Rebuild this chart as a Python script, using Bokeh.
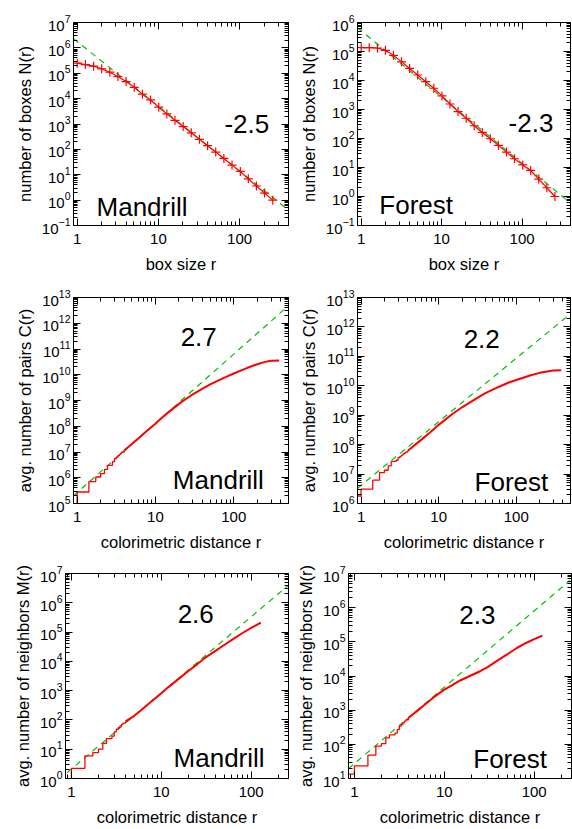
import math
from bokeh.plotting import figure
from bokeh.models import Range1d, FixedTicker, LogAxis, Label, PrintfTickFormatter
from bokeh.layouts import row, column
from bokeh.embed import file_html
from bokeh.resources import INLINE

# ---------------- data ----------------
# box counting: box size r and number of boxes N(r)
box_r = [1, 1.26, 1.59, 2, 2.52, 3.17, 4, 5.04, 6.35, 8, 10.1, 12.7, 16, 20.2, 25.4,
         32, 40.3, 50.8, 64, 80.6, 102, 128, 161, 203, 256]
mandrill_N = [2.5e5, 2.2e5, 1.9e5, 1.5e5, 1.1e5, 7.4e4, 4.7e4, 2.8e4, 1.5e4, 8.9e3,
              4.6e3, 2.5e3, 1.4e3, 790, 450, 250, 140, 78, 44, 24, 13.5, 6.9, 3.6, 1.9, 1.0]
forest_N = [1.35e5, 1.35e5, 1.32e5, 1.1e5, 7.4e4, 4.4e4, 2.6e4, 1.55e4, 9.1e3, 5.4e3,
            2.95e3, 1.55e3, 850, 500, 275, 162, 98, 58, 34, 20, 12.3, 7.9, 4.0, 2.0, 1.0]
fit_N_r = [0.9, 400]
mandrill_N_fit = [2.3e6, 0.41]
forest_N_fit = [6.6e5, 0.59]

# correlation: small-r staircase (discrete colour distances) then smooth part
step_r = [0.8, 1, 1.414, 1.732, 2, 2.236, 2.449, 2.828, 3, 3.162, 3.317, 3.464, 3.606, 3.742, 4]
mandrill_C_step = [3.2e4, 2.8e5, 7.1e5, 1.07e6, 1.45e6, 2.1e6, 3.0e6, 4.2e6, 5.5e6, 6.3e6,
                   7.2e6, 8.1e6, 9.1e6, 1.0e7, 1.15e7]
forest_C_step = [1.8e6, 3.1e6, 6.2e6, 1.12e7, 1.35e7, 1.9e7, 2.7e7, 2.95e7, 3.6e7, 4.0e7,
                 4.4e7, 4.8e7, 5.2e7, 5.6e7, 6.2e7]
mandrill_C_r = [4, 5, 6, 8, 10, 12, 15, 20, 25, 30, 40, 50, 60, 80, 100, 150, 200, 250, 300, 380]
mandrill_C = [1.15e7, 2.04e7, 3.3e7, 7.1e7, 1.26e8, 2.1e8, 3.7e8, 7.4e8, 1.2e9, 1.74e9,
              2.9e9, 4.2e9, 5.5e9, 8.3e9, 1.12e10, 1.86e10, 2.57e10, 3.16e10, 3.47e10, 3.55e10]
forest_C_r = [4, 5, 6, 8, 10, 15, 20, 30, 40, 60, 80, 100, 150, 200, 300, 380]
forest_C = [6.2e7, 1.0e8, 1.48e8, 2.8e8, 4.7e8, 1.1e9, 1.86e9, 3.6e9, 5.6e9, 9.3e9,
            1.29e10, 1.58e10, 2.24e10, 2.75e10, 3.3e10, 3.4e10]
fit_C_r = [0.9, 500]
mandrill_C_fit = [2.0e5, 4.8e12]
forest_C_fit = [3.3e6, 2.8e12]

# neighbours
mandrill_M_step = [0.5, 2.2, 5.9, 7.6, 10, 15.8, 23, 28, 39, 48, 55, 63, 71, 78, 89]
forest_M_step = [13.5, 23.4, 48, 89, 105, 155, 190, 214, 270, 340, 380, 427, 479, 525, 603]
mandrill_M_r = [4, 5, 6, 8, 10, 12, 15, 20, 25, 30, 40, 50, 64, 80, 100, 128]
mandrill_M = [89, 138, 219, 457, 813, 1.32e3, 2.29e3, 4.68e3, 7.9e3, 1.26e4, 2.29e4,
              3.63e4, 6.0e4, 9.3e4, 1.38e5, 2.1e5]
forest_M_r = [4, 5, 6, 8, 10, 12, 15, 20, 25, 30, 40, 50, 64, 80, 100, 123]
forest_M = [603, 955, 1.41e3, 2.63e3, 3.98e3, 5.25e3, 7.4e3, 1.05e4, 1.38e4, 1.78e4,
            2.95e4, 4.27e4, 6.6e4, 9.1e4, 1.2e5, 1.51e5]
mandrill_M_fit_r = [0.9, 260]
mandrill_M_fit = [1.6, 4.0e6]
forest_M_fit_r = [0.86, 251]
forest_M_fit = [19.5, 6.3e6]

# ---------------- styling ----------------
FONT = "Liberation Sans"
RED = "#ff0000"
GREEN = "#00c000"


def panel(w, h, bl, br, bt, bb, xr, yr, xlabel, ylabel):
    p = figure(width=w, height=h, x_axis_type="log", y_axis_type="log",
               x_range=Range1d(*xr), y_range=Range1d(*yr),
               min_border_left=bl, min_border_right=br,
               min_border_top=bt, min_border_bottom=bb,
               output_backend="svg", toolbar_location=None)
    p.grid.visible = False
    p.outline_line_color = "black"
    p.outline_line_width = 1
    e0 = round(math.log10(yr[0]))
    e1 = round(math.log10(yr[1]))
    exps = list(range(e0, e1 + 1))
    yt = FixedTicker(ticks=[10.0 ** e for e in exps],
                     minor_ticks=[m * 10.0 ** e for e in exps for m in range(2, 10)])
    xt = FixedTicker(ticks=[1, 10, 100],
                     minor_ticks=[m * 10.0 ** e for e in range(-1, 3) for m in range(2, 10)])
    p.xaxis.ticker = xt
    p.yaxis.ticker = yt
    p.xaxis.formatter = PrintfTickFormatter(format="%d")
    for ax in (p.xaxis[0], p.yaxis[0]):
        ax.major_tick_in = 7
        ax.major_tick_out = 0
        ax.minor_tick_in = 4
        ax.minor_tick_out = 0
        ax.axis_line_color = "black"
        ax.major_tick_line_color = "black"
        ax.minor_tick_line_color = "black"
        ax.major_label_text_font = FONT
        ax.major_label_text_font_size = "15px"
        ax.major_label_text_color = "black"
        ax.axis_label_text_font = FONT
        ax.axis_label_text_font_size = "16.5px"
        ax.axis_label_text_font_style = "normal"
        ax.axis_label_text_color = "black"
    p.xaxis.major_label_standoff = 8
    p.xaxis.axis_label_standoff = 8
    p.yaxis.major_label_standoff = 3
    p.yaxis.axis_label_standoff = 5
    p.xaxis.axis_label = xlabel
    p.yaxis.axis_label = ylabel
    # mirrored ticks (top / right), labels invisible
    for tk, side in ((xt, "above"), (yt, "right")):
        ax = LogAxis(ticker=tk, formatter=PrintfTickFormatter(format="%d"))
        ax.major_tick_in = 7
        ax.major_tick_out = 0
        ax.minor_tick_in = 4
        ax.minor_tick_out = 0
        ax.major_label_text_font_size = "1px"
        ax.major_label_text_alpha = 0
        ax.major_label_standoff = 0
        p.add_layout(ax, side)
    return p


def label(p, x, y, text):
    p.add_layout(Label(x=x, y=y, text=text, text_font=FONT, text_font_size="26px",
                       text_color="black", text_align="left", text_baseline="middle"))


LW, RW = 290, 282

# ---- row 1: box counting ----
p1 = panel(LW, 285, 73, 2, 22, 60, (0.9, 400), (1e-1, 1e7), "box size r", "number of boxes N(r)")
p1.line(fit_N_r, mandrill_N_fit, line_color=GREEN, line_dash="6 5", line_width=1.2)
p1.line(box_r, mandrill_N, line_color=RED, line_width=1.2)
p1.scatter(box_r, mandrill_N, marker="cross", size=9, line_color=RED, line_width=1.2)
label(p1, 65, 1e3, "-2.5")
label(p1, 1.73, 0.52, "Mandrill")

p2 = panel(RW, 285, 67, 2, 22, 59, (0.9, 400), (1e-1, 1e6), "box size r", "number of boxes N(r)")
p2.line(fit_N_r, forest_N_fit, line_color=GREEN, line_dash="6 5", line_width=1.2)
p2.line(box_r, forest_N, line_color=RED, line_width=1.2)
p2.scatter(box_r, forest_N, marker="cross", size=9, line_color=RED, line_width=1.2)
label(p2, 68, 340, "-2.3")
label(p2, 1.68, 0.51, "Forest")

# ---- row 2: correlation ----
p3 = panel(LW, 276, 73, 2, 12, 58, (0.9, 500), (1e5, 1e13), "colorimetric distance r",
           "avg. number of pairs C(r)")
p3.line(fit_C_r, mandrill_C_fit, line_color=GREEN, line_dash="6 5", line_width=1.2)
p3.step(step_r, mandrill_C_step, mode="after", line_color=RED, line_width=1.3)
p3.line(mandrill_C_r, mandrill_C, line_color=RED, line_width=2)
label(p3, 21, 2.8e11, "2.7")
label(p3, 16.7, 7.9e5, "Mandrill")

p4 = panel(RW, 276, 67, 2, 12, 58, (0.9, 500), (1e6, 1e13), "colorimetric distance r",
           "avg. number of pairs C(r)")
p4.line(fit_C_r, forest_C_fit, line_color=GREEN, line_dash="6 5", line_width=1.2)
p4.step(step_r, forest_C_step, mode="after", line_color=RED, line_width=1.3)
p4.line(forest_C_r, forest_C, line_color=RED, line_width=2)
label(p4, 21, 4e11, "2.2")
label(p4, 29, 5.5e6, "Forest")

# ---- row 3: neighbours ----
p5 = panel(LW, 268, 65, 2, 12, 51, (0.86, 260), (1e0, 1e7), "colorimetric distance r",
           "avg. number of neighbors M(r)")
p5.line(mandrill_M_fit_r, mandrill_M_fit, line_color=GREEN, line_dash="6 5", line_width=1.2)
p5.step(step_r, mandrill_M_step, mode="after", line_color=RED, line_width=1.3)
p5.line(mandrill_M_r, mandrill_M, line_color=RED, line_width=2)
label(p5, 15.2, 4.3e5, "2.6")
label(p5, 13.7, 4.9, "Mandrill")

p6 = panel(RW, 268, 58, 1, 12, 51, (0.86, 260), (1e1, 1e7), "colorimetric distance r",
           "avg. number of neighbors M(r)")
p6.line(forest_M_fit_r, forest_M_fit, line_color=GREEN, line_dash="6 5", line_width=1.2)
p6.step(step_r, forest_M_step, mode="after", line_color=RED, line_width=1.3)
p6.line(forest_M_r, forest_M, line_color=RED, line_width=2)
label(p6, 14.7, 6.3e5, "2.3")
label(p6, 21, 36, "Forest")

layout = column(row(p1, p2), row(p3, p4), row(p5, p6))

open("out.html", "w").write(file_html(layout, INLINE))
